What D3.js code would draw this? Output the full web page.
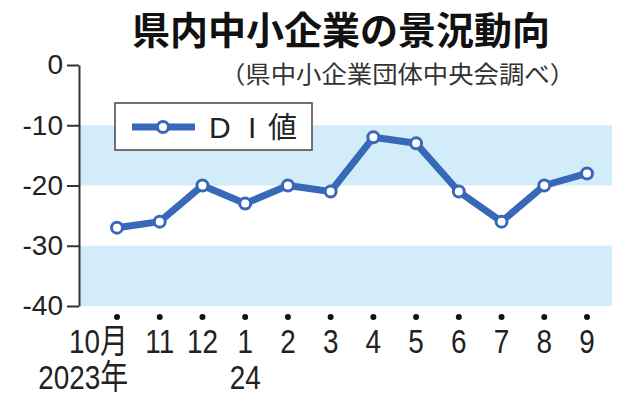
<!DOCTYPE html>
<html>
<head>
<meta charset="utf-8">
<script src="https://cdn.jsdelivr.net/npm/d3@7"></script>
<style>
  html, body { margin: 0; padding: 0; background: #fff; }
  svg { display: block; }
</style>
</head>
<body>
<div id="chart"></div>
<script>
// 県内中小企業の景況動向 — DI line chart, Oct 2023 .. Sep 2024.

const months = ["10月", "11", "12", "1", "2", "3", "4", "5", "6", "7", "8", "9"];
const yearLabels = ["2023年", "", "", "24", "", "", "", "", "", "", "", ""];
const diValues = [-27, -26, -20, -23, -20, -21, -12, -13, -21, -26, -20, -18];
const yTicks = [0, -10, -20, -30, -40];
const shadedBands = [[-20, -10], [-40, -30]];
const legendParts = ["D", "I", "値"];

const W = 634, H = 400;
const plotLeft = 79, plotRight = 612;
const lineColor = "#3868b8";
const bandColor = "#d2ecf9";
const jp = "'Noto Sans CJK JP', 'Noto Sans', sans-serif";
const latin = "'Liberation Sans', 'Noto Sans CJK JP', sans-serif";

const svg = d3.select("#chart").append("svg")
  .attr("width", W).attr("height", H)
  .attr("viewBox", `0 0 ${W} ${H}`);

const x = d3.scalePoint().domain(months).range([117, 587]);
const y = d3.scaleLinear().domain([-40, 0]).range([306, 65]);

// light blue bands
svg.append("g").selectAll("rect").data(shadedBands).join("rect")
  .attr("x", plotLeft)
  .attr("width", plotRight - plotLeft)
  .attr("y", d => y(d[1]))
  .attr("height", d => y(d[0]) - y(d[1]))
  .attr("fill", bandColor);

// y axis
const yAxis = svg.append("g")
  .attr("transform", `translate(${plotLeft},0)`)
  .call(d3.axisLeft(y).tickValues(yTicks).tickSize(12).tickSizeOuter(0)
    .tickPadding(4).tickFormat(d => String(d)));
yAxis.select(".domain").attr("stroke", "#333").attr("stroke-width", 2);
yAxis.selectAll(".tick line").attr("stroke", "#333").attr("stroke-width", 2);
yAxis.selectAll(".tick text")
  .attr("font-family", latin).attr("font-size", 28).attr("fill", "#222");

// x dots under the axis
svg.append("g").selectAll("circle").data(months).join("circle")
  .attr("cx", d => x(d)).attr("cy", 317).attr("r", 3).attr("fill", "#111");

// x labels — tall, narrow digits
const xLab = svg.append("g").attr("font-family", latin)
  .attr("font-size", 34).attr("fill", "#222");
xLab.selectAll("text.m").data(months).join("text")
  .attr("class", "m")
  .attr("text-anchor", (d, i) => i === 0 ? "end" : "middle")
  .attr("transform", (d, i) => `translate(${i === 0 ? x(d) + 11 : x(d)},353) scale(0.82,1)`)
  .text(d => d);
xLab.selectAll("text.yr").data(months.map((m, i) => ({ m, t: yearLabels[i], i })).filter(d => d.t))
  .join("text")
  .attr("class", "yr")
  .attr("text-anchor", d => d.i === 0 ? "end" : "middle")
  .attr("transform", d => `translate(${d.i === 0 ? x(d.m) + 11 : x(d.m)},389) scale(0.82,1)`)
  .text(d => d.t);

// line + open circles
const pts = months.map((m, i) => ({ m, v: diValues[i] }));
svg.append("path").datum(pts)
  .attr("fill", "none").attr("stroke", lineColor).attr("stroke-width", 7)
  .attr("stroke-linejoin", "round")
  .attr("d", d3.line().x(d => x(d.m)).y(d => y(d.v)));
svg.append("g").selectAll("circle").data(pts).join("circle")
  .attr("cx", d => x(d.m)).attr("cy", d => y(d.v)).attr("r", 5.5)
  .attr("fill", "#fff").attr("stroke", lineColor).attr("stroke-width", 3);

// legend
const lg = svg.append("g");
lg.append("rect").attr("x", 115).attr("y", 103).attr("width", 197).attr("height", 47)
  .attr("fill", "#fff").attr("stroke", "#444").attr("stroke-width", 1.5);
lg.append("line").attr("x1", 132).attr("x2", 195).attr("y1", 127).attr("y2", 127)
  .attr("stroke", lineColor).attr("stroke-width", 7);
lg.append("circle").attr("cx", 163).attr("cy", 127).attr("r", 5.5)
  .attr("fill", "#fff").attr("stroke", lineColor).attr("stroke-width", 3);
const lgText = lg.append("text").attr("y", 138)
  .attr("font-family", latin).attr("font-size", 30).attr("fill", "#222");
lgText.selectAll("tspan").data(legendParts).join("tspan")
  .attr("x", (d, i) => [209, 248, 268][i])
  .attr("font-family", (d, i) => i === 2 ? jp : latin)
  .attr("font-size", (d, i) => i === 2 ? 29 : 30)
  .text(d => d);

// title + source
svg.append("text").attr("x", 341).attr("y", 44).attr("text-anchor", "middle")
  .attr("font-family", jp).attr("font-weight", "bold").attr("font-size", 38)
  .attr("fill", "#111").text("県内中小企業の景況動向");
svg.append("text").attr("x", 220).attr("y", 83)
  .attr("font-family", jp).attr("font-size", 24).attr("fill", "#333")
  .attr("textLength", 355).attr("lengthAdjust", "spacingAndGlyphs")
  .text("（県中小企業団体中央会調べ）");
</script>
</body>
</html>
